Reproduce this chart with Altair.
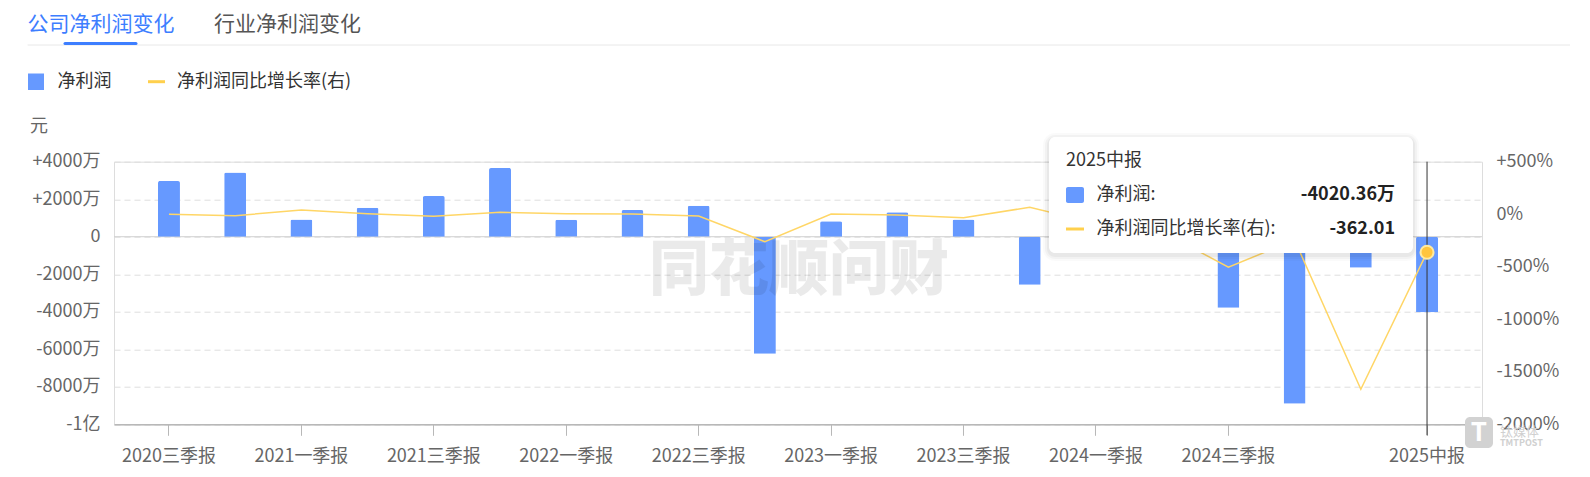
import altair as alt
import pandas as pd

# ---------------- data ----------------
categories = ["2020三季报", "2020年报", "2021一季报", "2021中报", "2021三季报", "2021年报",
              "2022一季报", "2022中报", "2022三季报", "2022年报", "2023一季报", "2023中报",
              "2023三季报", "2023年报", "2024一季报", "2024中报", "2024三季报", "2024年报",
              "2025一季报", "2025中报"]
profit_wan = [2970, 3430, 920, 1550, 2170, 3660, 900, 1420, 1650, -6240, 820, 1310,
              920, -2560, 100, -870, -3790, -8900, -1650, -4020.36]
growth_pct = [-1, -14, 40, 5, -20, 18, 5, 2, -17, -262, 2, -8,
              -33, 66, -87, -166, -505, -245, -1667, -362.01]
series_names = ["净利润", "净利润同比增长率(右)"]
tab_names = ["公司净利润变化", "行业净利润变化"]
left_ticks = [4000, 2000, 0, -2000, -4000, -6000, -8000, -10000]
right_ticks = [500, 0, -500, -1000, -1500, -2000]
x_label_values = categories[0:17:2] + [categories[-1]]
unit_label = "元"
watermark_text = "同花顺问财"
highlight = "2025中报"

df = pd.DataFrame({"period": categories, "profit": profit_wan, "growth": growth_pct})
one = pd.DataFrame({"k": [0]})

W = 1368
H = 262.6
BLUE = "#6699ff"
YELLOW = "#ffd666"
FONT = "Noto Sans CJK SC"

xenc = alt.X(
    "period:N",
    scale=alt.Scale(domain=categories, paddingInner=0, paddingOuter=0.33),
    axis=alt.Axis(values=x_label_values, title=None, labelAngle=0, labelFontSize=18,
                  labelColor="#666666", tickSize=11, tickColor="#b8b8b8",
                  domainColor="#b8b8b8", domainWidth=1.5, labelPadding=12,
                  grid=False, labelOverlap=False, labelFont=FONT),
)

left_scale = alt.Scale(domain=[-10000, 4000], nice=False, zero=False)
right_scale = alt.Scale(domain=[-2000, 500], nice=False, zero=False)

zero_rule = alt.Chart(pd.DataFrame({"v": [0]})).mark_rule(color="#d0d0d0", strokeWidth=1).encode(
    y=alt.Y("v:Q", scale=left_scale, axis=None)
)

bars = alt.Chart(df).mark_bar(size=22, cornerRadiusEnd=2, color=BLUE).encode(
    x=xenc,
    y=alt.Y("profit:Q", scale=left_scale,
            axis=alt.Axis(values=left_ticks, title=None, grid=True, gridDash=[6, 4],
                          gridColor="#dedede", domain=False, ticks=False, labelPadding=14,
                          labelFontSize=18, labelColor="#666666", labelFont=FONT,
                          labelExpr="datum.value == 0 ? '0' : datum.value <= -10000 ? '-1亿' : (datum.value > 0 ? '+' : '') + datum.value + '万'")),
)

line = alt.Chart(df).mark_line(color=YELLOW, strokeWidth=1.5).encode(
    x=xenc,
    y=alt.Y("growth:Q", scale=right_scale,
            axis=alt.Axis(orient="right", values=right_ticks, title=None, grid=False,
                          domain=False, ticks=False, labelPadding=14, labelFontSize=18,
                          labelColor="#666666", labelFont=FONT,
                          labelExpr="datum.value == 0 ? '0%' : (datum.value > 0 ? '+' : '') + datum.value + '%'")),
)

hl = alt.Chart(df).transform_filter(alt.datum.period == highlight)

vrule = hl.mark_rule(color="#333333", strokeWidth=1).encode(
    x=xenc, y=alt.value(0), y2=alt.value(H + 11)
)

dot = hl.mark_circle(size=170, color="#ffc53d", stroke="#ffeaa0", strokeWidth=2, opacity=1).encode(
    x=xenc, y=alt.Y("growth:Q", scale=right_scale, axis=None)
)

# watermark
wm = alt.Chart(one).mark_text(text=watermark_text, fontSize=60, fontWeight=900, color="#000000",
                              opacity=0.08, align="center", baseline="middle", font=FONT).encode(
    x=alt.value(685), y=alt.value(110))

# tabs
tab1 = alt.Chart(one).mark_text(text=tab_names[0], fontSize=21, color="#3d7eff", align="left",
                                baseline="middle", font=FONT).encode(x=alt.value(-86.4), y=alt.value(-136.7))
tab2 = alt.Chart(one).mark_text(text=tab_names[1], fontSize=21, color="#555555", align="left",
                                baseline="middle", font=FONT).encode(x=alt.value(100), y=alt.value(-136.7))
sep = alt.Chart(one).mark_rule(color="#e8e8e8", strokeWidth=1).encode(
    x=alt.value(-86.4), x2=alt.value(1456), y=alt.value(-116.7))
underline = alt.Chart(one).mark_rule(color="#3d7eff", strokeWidth=3, strokeCap="round").encode(
    x=alt.value(-49), x2=alt.value(22), y=alt.value(-118.3))

# legend
leg_sq = alt.Chart(one).mark_rect(color=BLUE).encode(
    x=alt.value(-86), x2=alt.value(-70), y=alt.value(-88.2), y2=alt.value(-71.7))
leg_t1 = alt.Chart(one).mark_text(text=series_names[0], fontSize=18, color="#333333", align="left",
                                  baseline="middle", font=FONT).encode(x=alt.value(-56.5), y=alt.value(-80))
leg_ln = alt.Chart(one).mark_rule(color="#ffd04d", strokeWidth=3).encode(
    x=alt.value(34), x2=alt.value(51), y=alt.value(-80))
leg_t2 = alt.Chart(one).mark_text(text=series_names[1], fontSize=18, color="#333333", align="left",
                                  baseline="middle", font=FONT).encode(x=alt.value(63), y=alt.value(-80))

unit = alt.Chart(one).mark_text(text=unit_label, fontSize=18, color="#666666", align="left",
                                baseline="middle", font=FONT).encode(x=alt.value(-84), y=alt.value(-34.7))

# tooltip
TX0, TX1, TY0, TY1 = 935, 1299, -24.7, 91.3
shadows = []
for k, op in [(6, 0.02), (4, 0.03), (2, 0.04)]:
    shadows.append(alt.Chart(one).mark_rect(color="#000000", opacity=op, cornerRadius=6 + k).encode(
        x=alt.value(TX0 - k), x2=alt.value(TX1 + k), y=alt.value(TY0 - k + 2), y2=alt.value(TY1 + k + 2)))
tbox = alt.Chart(one).mark_rect(color="#ffffff", opacity=1, cornerRadius=6).encode(
    x=alt.value(TX0), x2=alt.value(TX1), y=alt.value(TY0), y2=alt.value(TY1))
t_title = hl.mark_text(fontSize=18, color="#333333", align="left", baseline="middle", font=FONT).encode(
    x=alt.value(952), y=alt.value(-1), text="period:N")
t_sq = alt.Chart(one).mark_rect(color=BLUE, cornerRadius=2).encode(
    x=alt.value(952), x2=alt.value(970), y=alt.value(25.3), y2=alt.value(41.3))
t_l1 = alt.Chart(one).mark_text(text=series_names[0] + ":", fontSize=18, color="#333333", align="left",
                                baseline="middle", font=FONT).encode(x=alt.value(982.5), y=alt.value(33.3))
t_v1 = hl.transform_calculate(v="'' + datum.profit + '万'").mark_text(
    fontSize=18, fontWeight="bold", color="#222222", align="right", baseline="middle", font=FONT).encode(
    x=alt.value(1281), y=alt.value(33.3), text="v:N")
t_ln = alt.Chart(one).mark_rule(color="#ffd04d", strokeWidth=3).encode(
    x=alt.value(952), x2=alt.value(970), y=alt.value(67.3))
t_l2 = alt.Chart(one).mark_text(text=series_names[1] + ":", fontSize=18, color="#333333", align="left",
                                baseline="middle", font=FONT).encode(x=alt.value(982.5), y=alt.value(67.3))
t_v2 = hl.transform_calculate(v="'' + datum.growth").mark_text(
    fontSize=18, fontWeight="bold", color="#222222", align="right", baseline="middle", font=FONT).encode(
    x=alt.value(1281), y=alt.value(67.3), text="v:N")

# corner logo
logo_box = alt.Chart(one).mark_rect(color="#d2d2d2", cornerRadius=5).encode(
    x=alt.value(1351), x2=alt.value(1379), y=alt.value(255.3), y2=alt.value(286.3))
logo_t = alt.Chart(one).mark_text(text="T", fontSize=26, fontWeight="bold", color="#ffffff",
                                  align="center", baseline="middle", font=FONT).encode(
    x=alt.value(1365), y=alt.value(271))
logo_c = alt.Chart(one).mark_text(text="钛媒体", fontSize=13, color="#d0d0d0", align="left",
                                  baseline="middle", font=FONT).encode(x=alt.value(1386), y=alt.value(270))
logo_e = alt.Chart(one).mark_text(text="TMTPOST", fontSize=9, fontWeight="bold", color="#d0d0d0",
                                  align="left", baseline="middle", font=FONT).encode(x=alt.value(1386), y=alt.value(281))

chart = alt.layer(
    zero_rule, bars, line, vrule, dot, wm,
    sep, underline, tab1, tab2, leg_sq, leg_t1, leg_ln, leg_t2, unit,
    *shadows, tbox, t_title, t_sq, t_l1, t_v1, t_ln, t_l2, t_v2,
    logo_box, logo_t, logo_c, logo_e,
).resolve_scale(y="independent").properties(
    width=W, height=H,
    autosize=alt.AutoSizeParams(type="none"),
    padding={"left": 106, "top": 153.7, "right": 94, "bottom": 44.5},
).configure_view(stroke=None).configure(font=FONT)

chart.save("out.html", embed_options={"renderer": "svg", "actions": False})
